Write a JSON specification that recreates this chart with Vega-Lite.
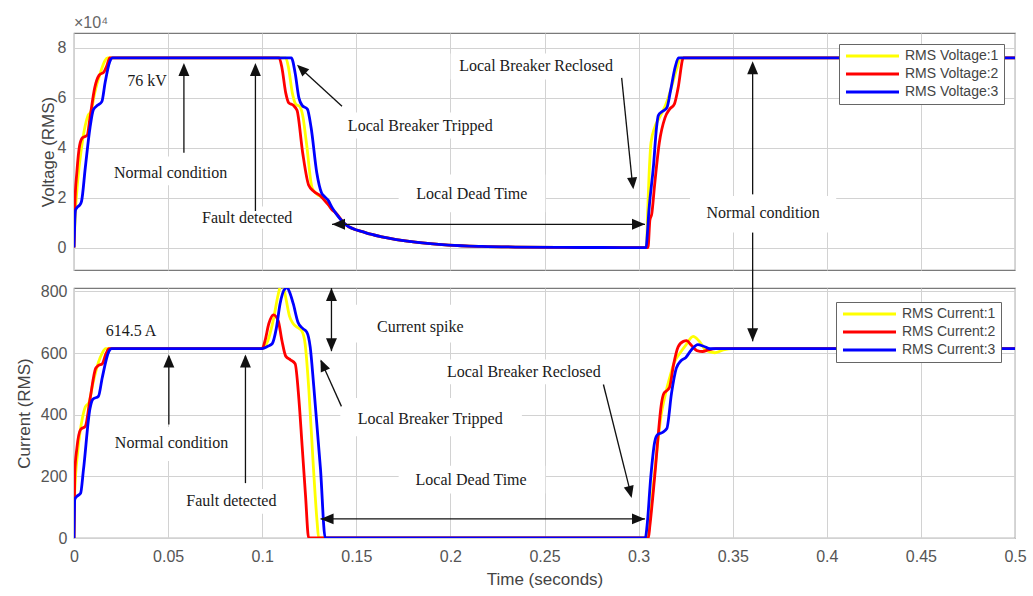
{
"$schema": "https://vega.github.io/schema/vega-lite/v6.json",
"background": "white",
"padding": {"left": 14, "top": 14, "right": 5, "bottom": 4},
"spacing": 18,
"bounds": "flush",
"resolve": {"scale": {"color": "independent"}},
"config": {
  "view": {"stroke": "#7a7a7a", "strokeWidth": 1.2},
  "axis": {"grid": true, "gridColor": "#d2d2d2", "gridWidth": 1, "domain": false, "ticks": false, "labelFlush": false,
    "labelFont": "Liberation Sans", "labelFontSize": 16, "labelColor": "#555555",
    "titleFont": "Liberation Sans", "titleFontSize": 17, "titleColor": "#444444", "titleFontWeight": "normal"},
  "legend": {"title": null, "orient": "top-right", "fillColor": "white", "strokeColor": "#666666", "padding": 5,
    "labelFont": "Liberation Sans", "labelFontSize": 14, "labelColor": "#444444",
    "symbolType": "M-1,0L9.6,0", "symbolSize": 100, "symbolStrokeWidth": 3, "rowPadding": 4, "labelOffset": 47}
},
"datasets": {
"voltage": [
{"t":0,"v":0,"phase":"RMS Voltage:1"},{"t":0.0006,"v":12000,"phase":"RMS Voltage:1"},{"t":0.002,"v":27000,"phase":"RMS Voltage:1"},{"t":0.004,"v":40000,"phase":"RMS Voltage:1"},{"t":0.006,"v":49000,"phase":"RMS Voltage:1"},{"t":0.0075,"v":53000,"phase":"RMS Voltage:1"},{"t":0.009,"v":54500,"phase":"RMS Voltage:1"},{"t":0.011,"v":62000,"phase":"RMS Voltage:1"},{"t":0.014,"v":70000,"phase":"RMS Voltage:1"},{"t":0.0165,"v":75000,"phase":"RMS Voltage:1"},{"t":0.0178,"v":76000,"phase":"RMS Voltage:1"},{"t":0.1125,"v":76000,"phase":"RMS Voltage:1"},{"t":0.114,"v":72000,"phase":"RMS Voltage:1"},{"t":0.116,"v":62000,"phase":"RMS Voltage:1"},{"t":0.1178,"v":57500,"phase":"RMS Voltage:1"},{"t":0.12,"v":56500,"phase":"RMS Voltage:1"},{"t":0.1215,"v":53000,"phase":"RMS Voltage:1"},{"t":0.1235,"v":42000,"phase":"RMS Voltage:1"},{"t":0.1265,"v":24000,"phase":"RMS Voltage:1"},{"t":0.129,"v":21500,"phase":"RMS Voltage:1"},{"t":0.132,"v":20000,"phase":"RMS Voltage:1"},{"t":0.1345,"v":18000,"phase":"RMS Voltage:1"},{"t":0.137,"v":15500,"phase":"RMS Voltage:1"},{"t":0.1389,"v":14000,"phase":"RMS Voltage:1"},{"t":0.1442,"v":9300,"phase":"RMS Voltage:1"},{"t":0.1548,"v":6000,"phase":"RMS Voltage:1"},{"t":0.1636,"v":4300,"phase":"RMS Voltage:1"},{"t":0.1814,"v":2150,"phase":"RMS Voltage:1"},{"t":0.199,"v":1000,"phase":"RMS Voltage:1"},{"t":0.2167,"v":470,"phase":"RMS Voltage:1"},{"t":0.2345,"v":200,"phase":"RMS Voltage:1"},{"t":0.26,"v":50,"phase":"RMS Voltage:1"},{"t":0.28,"v":10,"phase":"RMS Voltage:1"},{"t":0.3042,"v":0,"phase":"RMS Voltage:1"},{"t":0.3048,"v":14000,"phase":"RMS Voltage:1"},{"t":0.3055,"v":28000,"phase":"RMS Voltage:1"},{"t":0.3066,"v":42000,"phase":"RMS Voltage:1"},{"t":0.3085,"v":48000,"phase":"RMS Voltage:1"},{"t":0.311,"v":52000,"phase":"RMS Voltage:1"},{"t":0.314,"v":56500,"phase":"RMS Voltage:1"},{"t":0.317,"v":63000,"phase":"RMS Voltage:1"},{"t":0.32,"v":71000,"phase":"RMS Voltage:1"},{"t":0.3225,"v":76000,"phase":"RMS Voltage:1"},{"t":0.5,"v":76000,"phase":"RMS Voltage:1"},
{"t":0,"v":0,"phase":"RMS Voltage:2"},{"t":0.0005,"v":18000,"phase":"RMS Voltage:2"},{"t":0.0015,"v":30000,"phase":"RMS Voltage:2"},{"t":0.003,"v":41000,"phase":"RMS Voltage:2"},{"t":0.0045,"v":44000,"phase":"RMS Voltage:2"},{"t":0.007,"v":45000,"phase":"RMS Voltage:2"},{"t":0.0085,"v":52000,"phase":"RMS Voltage:2"},{"t":0.011,"v":64000,"phase":"RMS Voltage:2"},{"t":0.0133,"v":69000,"phase":"RMS Voltage:2"},{"t":0.016,"v":70500,"phase":"RMS Voltage:2"},{"t":0.0175,"v":73000,"phase":"RMS Voltage:2"},{"t":0.019,"v":76000,"phase":"RMS Voltage:2"},{"t":0.109,"v":76000,"phase":"RMS Voltage:2"},{"t":0.1105,"v":72000,"phase":"RMS Voltage:2"},{"t":0.1125,"v":62000,"phase":"RMS Voltage:2"},{"t":0.1141,"v":58000,"phase":"RMS Voltage:2"},{"t":0.1165,"v":57000,"phase":"RMS Voltage:2"},{"t":0.1185,"v":55000,"phase":"RMS Voltage:2"},{"t":0.1215,"v":38000,"phase":"RMS Voltage:2"},{"t":0.1247,"v":25000,"phase":"RMS Voltage:2"},{"t":0.1275,"v":22500,"phase":"RMS Voltage:2"},{"t":0.131,"v":20700,"phase":"RMS Voltage:2"},{"t":0.1335,"v":18500,"phase":"RMS Voltage:2"},{"t":0.1353,"v":17000,"phase":"RMS Voltage:2"},{"t":0.137,"v":15200,"phase":"RMS Voltage:2"},{"t":0.1389,"v":14000,"phase":"RMS Voltage:2"},{"t":0.1442,"v":9300,"phase":"RMS Voltage:2"},{"t":0.1548,"v":6000,"phase":"RMS Voltage:2"},{"t":0.1636,"v":4300,"phase":"RMS Voltage:2"},{"t":0.1814,"v":2150,"phase":"RMS Voltage:2"},{"t":0.199,"v":1000,"phase":"RMS Voltage:2"},{"t":0.2167,"v":470,"phase":"RMS Voltage:2"},{"t":0.2345,"v":200,"phase":"RMS Voltage:2"},{"t":0.26,"v":50,"phase":"RMS Voltage:2"},{"t":0.28,"v":10,"phase":"RMS Voltage:2"},{"t":0.305,"v":0,"phase":"RMS Voltage:2"},{"t":0.306,"v":11000,"phase":"RMS Voltage:2"},{"t":0.307,"v":13500,"phase":"RMS Voltage:2"},{"t":0.3085,"v":25000,"phase":"RMS Voltage:2"},{"t":0.311,"v":42000,"phase":"RMS Voltage:2"},{"t":0.314,"v":52000,"phase":"RMS Voltage:2"},{"t":0.3165,"v":55500,"phase":"RMS Voltage:2"},{"t":0.319,"v":57500,"phase":"RMS Voltage:2"},{"t":0.321,"v":64000,"phase":"RMS Voltage:2"},{"t":0.3238,"v":76000,"phase":"RMS Voltage:2"},{"t":0.5,"v":76000,"phase":"RMS Voltage:2"},
{"t":0,"v":0,"phase":"RMS Voltage:3"},{"t":0.0008,"v":15000,"phase":"RMS Voltage:3"},{"t":0.0018,"v":16200,"phase":"RMS Voltage:3"},{"t":0.003,"v":17000,"phase":"RMS Voltage:3"},{"t":0.004,"v":18500,"phase":"RMS Voltage:3"},{"t":0.006,"v":32000,"phase":"RMS Voltage:3"},{"t":0.0085,"v":48000,"phase":"RMS Voltage:3"},{"t":0.0103,"v":55300,"phase":"RMS Voltage:3"},{"t":0.0125,"v":57000,"phase":"RMS Voltage:3"},{"t":0.0148,"v":58500,"phase":"RMS Voltage:3"},{"t":0.0165,"v":66000,"phase":"RMS Voltage:3"},{"t":0.019,"v":74500,"phase":"RMS Voltage:3"},{"t":0.0205,"v":76000,"phase":"RMS Voltage:3"},{"t":0.1155,"v":76000,"phase":"RMS Voltage:3"},{"t":0.1175,"v":70000,"phase":"RMS Voltage:3"},{"t":0.1195,"v":60000,"phase":"RMS Voltage:3"},{"t":0.1212,"v":57000,"phase":"RMS Voltage:3"},{"t":0.124,"v":55500,"phase":"RMS Voltage:3"},{"t":0.126,"v":48000,"phase":"RMS Voltage:3"},{"t":0.129,"v":30000,"phase":"RMS Voltage:3"},{"t":0.1315,"v":22000,"phase":"RMS Voltage:3"},{"t":0.133,"v":20500,"phase":"RMS Voltage:3"},{"t":0.135,"v":19000,"phase":"RMS Voltage:3"},{"t":0.137,"v":16200,"phase":"RMS Voltage:3"},{"t":0.1389,"v":14000,"phase":"RMS Voltage:3"},{"t":0.1442,"v":9300,"phase":"RMS Voltage:3"},{"t":0.1548,"v":6000,"phase":"RMS Voltage:3"},{"t":0.1636,"v":4300,"phase":"RMS Voltage:3"},{"t":0.1814,"v":2150,"phase":"RMS Voltage:3"},{"t":0.199,"v":1000,"phase":"RMS Voltage:3"},{"t":0.2167,"v":470,"phase":"RMS Voltage:3"},{"t":0.2345,"v":200,"phase":"RMS Voltage:3"},{"t":0.26,"v":50,"phase":"RMS Voltage:3"},{"t":0.28,"v":10,"phase":"RMS Voltage:3"},{"t":0.304,"v":0,"phase":"RMS Voltage:3"},{"t":0.3046,"v":5000,"phase":"RMS Voltage:3"},{"t":0.3055,"v":15000,"phase":"RMS Voltage:3"},{"t":0.3079,"v":32600,"phase":"RMS Voltage:3"},{"t":0.3095,"v":48000,"phase":"RMS Voltage:3"},{"t":0.3105,"v":53000,"phase":"RMS Voltage:3"},{"t":0.3125,"v":54500,"phase":"RMS Voltage:3"},{"t":0.315,"v":56000,"phase":"RMS Voltage:3"},{"t":0.317,"v":63000,"phase":"RMS Voltage:3"},{"t":0.3195,"v":72500,"phase":"RMS Voltage:3"},{"t":0.3212,"v":76000,"phase":"RMS Voltage:3"},{"t":0.5,"v":76000,"phase":"RMS Voltage:3"}
],
"current": [
{"t":0,"i":0,"phase":"RMS Current:1"},{"t":0.0004,"i":150,"phase":"RMS Current:1"},{"t":0.002,"i":280,"phase":"RMS Current:1"},{"t":0.0045,"i":390,"phase":"RMS Current:1"},{"t":0.006,"i":425,"phase":"RMS Current:1"},{"t":0.008,"i":440,"phase":"RMS Current:1"},{"t":0.01,"i":500,"phase":"RMS Current:1"},{"t":0.013,"i":570,"phase":"RMS Current:1"},{"t":0.015,"i":600,"phase":"RMS Current:1"},{"t":0.0168,"i":614.5,"phase":"RMS Current:1"},{"t":0.1,"i":614.5,"phase":"RMS Current:1"},{"t":0.103,"i":640,"phase":"RMS Current:1"},{"t":0.106,"i":710,"phase":"RMS Current:1"},{"t":0.1085,"i":790,"phase":"RMS Current:1"},{"t":0.1106,"i":830,"phase":"RMS Current:1"},{"t":0.1125,"i":780,"phase":"RMS Current:1"},{"t":0.1145,"i":720,"phase":"RMS Current:1"},{"t":0.1165,"i":695,"phase":"RMS Current:1"},{"t":0.119,"i":682,"phase":"RMS Current:1"},{"t":0.121,"i":672,"phase":"RMS Current:1"},{"t":0.1228,"i":630,"phase":"RMS Current:1"},{"t":0.1248,"i":480,"phase":"RMS Current:1"},{"t":0.127,"i":250,"phase":"RMS Current:1"},{"t":0.1292,"i":50,"phase":"RMS Current:1"},{"t":0.13,"i":0,"phase":"RMS Current:1"},{"t":0.3045,"i":0,"phase":"RMS Current:1"},{"t":0.306,"i":60,"phase":"RMS Current:1"},{"t":0.308,"i":180,"phase":"RMS Current:1"},{"t":0.31,"i":300,"phase":"RMS Current:1"},{"t":0.312,"i":400,"phase":"RMS Current:1"},{"t":0.314,"i":460,"phase":"RMS Current:1"},{"t":0.3165,"i":520,"phase":"RMS Current:1"},{"t":0.319,"i":570,"phase":"RMS Current:1"},{"t":0.322,"i":600,"phase":"RMS Current:1"},{"t":0.325,"i":625,"phase":"RMS Current:1"},{"t":0.329,"i":654,"phase":"RMS Current:1"},{"t":0.332,"i":640,"phase":"RMS Current:1"},{"t":0.336,"i":608,"phase":"RMS Current:1"},{"t":0.3405,"i":601,"phase":"RMS Current:1"},{"t":0.345,"i":610,"phase":"RMS Current:1"},{"t":0.35,"i":614.5,"phase":"RMS Current:1"},{"t":0.5,"i":614.5,"phase":"RMS Current:1"},
{"t":0,"i":0,"phase":"RMS Current:2"},{"t":0.0004,"i":210,"phase":"RMS Current:2"},{"t":0.0015,"i":290,"phase":"RMS Current:2"},{"t":0.0035,"i":352,"phase":"RMS Current:2"},{"t":0.006,"i":362,"phase":"RMS Current:2"},{"t":0.0085,"i":450,"phase":"RMS Current:2"},{"t":0.0115,"i":550,"phase":"RMS Current:2"},{"t":0.013,"i":560,"phase":"RMS Current:2"},{"t":0.015,"i":565,"phase":"RMS Current:2"},{"t":0.017,"i":598,"phase":"RMS Current:2"},{"t":0.0186,"i":614.5,"phase":"RMS Current:2"},{"t":0.1,"i":614.5,"phase":"RMS Current:2"},{"t":0.1015,"i":640,"phase":"RMS Current:2"},{"t":0.1035,"i":695,"phase":"RMS Current:2"},{"t":0.106,"i":724,"phase":"RMS Current:2"},{"t":0.1085,"i":705,"phase":"RMS Current:2"},{"t":0.1105,"i":640,"phase":"RMS Current:2"},{"t":0.1125,"i":590,"phase":"RMS Current:2"},{"t":0.115,"i":578,"phase":"RMS Current:2"},{"t":0.1175,"i":565,"phase":"RMS Current:2"},{"t":0.1195,"i":450,"phase":"RMS Current:2"},{"t":0.1212,"i":300,"phase":"RMS Current:2"},{"t":0.123,"i":140,"phase":"RMS Current:2"},{"t":0.1247,"i":0,"phase":"RMS Current:2"},{"t":0.3052,"i":0,"phase":"RMS Current:2"},{"t":0.306,"i":40,"phase":"RMS Current:2"},{"t":0.3075,"i":130,"phase":"RMS Current:2"},{"t":0.309,"i":230,"phase":"RMS Current:2"},{"t":0.3105,"i":340,"phase":"RMS Current:2"},{"t":0.312,"i":430,"phase":"RMS Current:2"},{"t":0.3135,"i":470,"phase":"RMS Current:2"},{"t":0.315,"i":478,"phase":"RMS Current:2"},{"t":0.3165,"i":490,"phase":"RMS Current:2"},{"t":0.3185,"i":560,"phase":"RMS Current:2"},{"t":0.321,"i":620,"phase":"RMS Current:2"},{"t":0.3238,"i":638,"phase":"RMS Current:2"},{"t":0.3255,"i":640,"phase":"RMS Current:2"},{"t":0.328,"i":625,"phase":"RMS Current:2"},{"t":0.331,"i":608,"phase":"RMS Current:2"},{"t":0.334,"i":605,"phase":"RMS Current:2"},{"t":0.337,"i":610,"phase":"RMS Current:2"},{"t":0.341,"i":614.5,"phase":"RMS Current:2"},{"t":0.5,"i":614.5,"phase":"RMS Current:2"},
{"t":0,"i":0,"phase":"RMS Current:3"},{"t":0.0004,"i":125,"phase":"RMS Current:3"},{"t":0.0015,"i":135,"phase":"RMS Current:3"},{"t":0.0035,"i":145,"phase":"RMS Current:3"},{"t":0.005,"i":220,"phase":"RMS Current:3"},{"t":0.0085,"i":420,"phase":"RMS Current:3"},{"t":0.01,"i":450,"phase":"RMS Current:3"},{"t":0.013,"i":460,"phase":"RMS Current:3"},{"t":0.015,"i":520,"phase":"RMS Current:3"},{"t":0.0185,"i":605,"phase":"RMS Current:3"},{"t":0.02,"i":614.5,"phase":"RMS Current:3"},{"t":0.1,"i":614.5,"phase":"RMS Current:3"},{"t":0.103,"i":622,"phase":"RMS Current:3"},{"t":0.1053,"i":630,"phase":"RMS Current:3"},{"t":0.1075,"i":680,"phase":"RMS Current:3"},{"t":0.1095,"i":760,"phase":"RMS Current:3"},{"t":0.112,"i":808,"phase":"RMS Current:3"},{"t":0.1132,"i":812,"phase":"RMS Current:3"},{"t":0.115,"i":790,"phase":"RMS Current:3"},{"t":0.1165,"i":760,"phase":"RMS Current:3"},{"t":0.119,"i":700,"phase":"RMS Current:3"},{"t":0.1215,"i":680,"phase":"RMS Current:3"},{"t":0.1237,"i":668,"phase":"RMS Current:3"},{"t":0.1255,"i":620,"phase":"RMS Current:3"},{"t":0.1274,"i":492,"phase":"RMS Current:3"},{"t":0.131,"i":222,"phase":"RMS Current:3"},{"t":0.1335,"i":0,"phase":"RMS Current:3"},{"t":0.3036,"i":0,"phase":"RMS Current:3"},{"t":0.3045,"i":40,"phase":"RMS Current:3"},{"t":0.3065,"i":200,"phase":"RMS Current:3"},{"t":0.3085,"i":310,"phase":"RMS Current:3"},{"t":0.31,"i":335,"phase":"RMS Current:3"},{"t":0.3125,"i":342,"phase":"RMS Current:3"},{"t":0.315,"i":355,"phase":"RMS Current:3"},{"t":0.3175,"i":470,"phase":"RMS Current:3"},{"t":0.32,"i":550,"phase":"RMS Current:3"},{"t":0.3225,"i":575,"phase":"RMS Current:3"},{"t":0.325,"i":585,"phase":"RMS Current:3"},{"t":0.328,"i":610,"phase":"RMS Current:3"},{"t":0.3315,"i":627,"phase":"RMS Current:3"},{"t":0.3345,"i":622,"phase":"RMS Current:3"},{"t":0.338,"i":614,"phase":"RMS Current:3"},{"t":0.341,"i":614.5,"phase":"RMS Current:3"},{"t":0.5,"i":614.5,"phase":"RMS Current:3"}
]
},
"vconcat": [
{
  "width": 941, "height": 237,
  "title": {"text": "×10⁴", "anchor": "start", "frame": "group", "fontSize": 16, "color": "#666666", "font": "Liberation Sans", "fontWeight": "normal", "offset": 2},
  "layer": [
    {"data": {"values": [
      {"t1":0.0171,"t2":0.0855,"v1":25000,"v2":36500},
      {"t1":0.065,"t2":0.119,"v1":7500,"v2":16500},
      {"t1":0.1407,"t2":0.2273,"v1":43700,"v2":54100},
      {"t1":0.2001,"t2":0.2909,"v1":67400,"v2":77800},
      {"t1":0.1725,"t2":0.2504,"v1":14120,"v2":29320},
      {"t1":0.3273,"t2":0.405,"v1":6000,"v2":20640}]},
     "mark": {"type": "rect", "fill": "white"},
     "encoding": {"x": {"field": "t1", "type": "quantitative"}, "x2": {"field": "t2"}, "y": {"field": "v1", "type": "quantitative"}, "y2": {"field": "v2"}}},
    {"data": {"name": "voltage"},
     "mark": {"type": "line", "strokeWidth": 2.8, "interpolate": "monotone", "clip": true},
     "encoding": {
       "x": {"field": "t", "type": "quantitative", "scale": {"domain": [0, 0.5], "nice": false, "zero": false},
             "axis": {"labels": false, "title": null, "values": [0,0.05,0.1,0.15,0.2,0.25,0.3,0.35,0.4,0.45,0.5]}},
       "y": {"field": "v", "type": "quantitative", "scale": {"domain": [-9000, 86000], "nice": false, "zero": false},
             "axis": {"title": "Voltage (RMS)", "values": [0,20000,40000,60000,80000], "labelExpr": "datum.value/10000", "labelPadding": 8, "titlePadding": 0}},
       "color": {"field": "phase", "type": "nominal",
                 "scale": {"domain": ["RMS Voltage:1","RMS Voltage:2","RMS Voltage:3"], "range": ["#ffff00","#ff0000","#0000ff"]},
                 "legend": {"offset": 11}}
     }},
    {"data": {"values": [
      {"t":0.0584,"val":38000,"t2":0.0584,"val2":72000},
      {"t":0.0964,"val":14640,"t2":0.0964,"val2":72000},
      {"t":0.1424,"val":56640,"t2":0.1195,"val2":72500},
      {"t":0.291,"val":68000,"t2":0.2968,"val2":25000},
      {"t":0.1371,"val":9320,"t2":0.3034,"val2":9320},
      {"t":0.3606,"val":21320,"t2":0.3606,"val2":72000},
      {"t":0.3606,"val":6000,"t2":0.3606,"val2":-9000}]},
     "mark": {"type": "rule", "color": "#111111", "strokeWidth": 1.3},
     "encoding": {"x": {"field": "t", "type": "quantitative"}, "x2": {"field": "t2"}, "y": {"field": "val", "type": "quantitative"}, "y2": {"field": "val2"}}},
    {"data": {"values": [
      {"t":0.0388,"val":66640,"label":"76 kV"},
      {"t":0.0513,"val":30000,"label":"Normal condition"},
      {"t":0.092,"val":12000,"label":"Fault detected"},
      {"t":0.184,"val":48920,"label":"Local Breaker Tripped"},
      {"t":0.2455,"val":72640,"label":"Local Breaker Reclosed"},
      {"t":0.2114,"val":21320,"label":"Local Dead Time"},
      {"t":0.3662,"val":14000,"label":"Normal condition"}]},
     "mark": {"type": "text", "font": "Liberation Serif", "fontSize": 16, "color": "#1a1a1a", "align": "center", "baseline": "middle"},
     "encoding": {"x": {"field": "t", "type": "quantitative"}, "y": {"field": "val", "type": "quantitative"}, "text": {"field": "label"}}},
    {"data": {"values": [{"t":0.0584,"val":74000},{"t":0.0964,"val":74000},{"t":0.3606,"val":74640}]},
     "mark": {"type": "point", "shape": "M0,0L-0.42,1L0.42,1Z", "filled": true, "color": "#111111", "opacity": 1, "size": 676, "angle": 0},
     "encoding": {"x": {"field": "t", "type": "quantitative"}, "y": {"field": "val", "type": "quantitative"}}},
    {"data": {"values": [{"t":0.1371,"val":9320}]},
     "mark": {"type": "point", "shape": "M0,0L-0.42,1L0.42,1Z", "filled": true, "color": "#111111", "opacity": 1, "size": 676, "angle": 270},
     "encoding": {"x": {"field": "t", "type": "quantitative"}, "y": {"field": "val", "type": "quantitative"}}},
    {"data": {"values": [{"t":0.3034,"val":9320}]},
     "mark": {"type": "point", "shape": "M0,0L-0.42,1L0.42,1Z", "filled": true, "color": "#111111", "opacity": 1, "size": 676, "angle": 90},
     "encoding": {"x": {"field": "t", "type": "quantitative"}, "y": {"field": "val", "type": "quantitative"}}},
    {"data": {"values": [{"t":0.1185,"val":73320}]},
     "mark": {"type": "point", "shape": "M0,0L-0.42,1L0.42,1Z", "filled": true, "color": "#111111", "opacity": 1, "size": 576, "angle": 313},
     "encoding": {"x": {"field": "t", "type": "quantitative"}, "y": {"field": "val", "type": "quantitative"}}},
    {"data": {"values": [{"t":0.2972,"val":23320}]},
     "mark": {"type": "point", "shape": "M0,0L-0.42,1L0.42,1Z", "filled": true, "color": "#111111", "opacity": 1, "size": 576, "angle": 174},
     "encoding": {"x": {"field": "t", "type": "quantitative"}, "y": {"field": "val", "type": "quantitative"}}}
  ]
},
{
  "width": 941, "height": 250,
  "layer": [
    {"data": {"values": [
      {"t1":0.0176,"t2":0.086,"v1":250,"v2":360},
      {"t1":0.0566,"t2":0.1106,"v1":79,"v2":159},
      {"t1":0.1407,"t2":0.2203,"v1":634,"v2":757},
      {"t1":0.1415,"t2":0.238,"v1":330,"v2":454},
      {"t1":0.1936,"t2":0.2844,"v1":499,"v2":579},
      {"t1":0.1725,"t2":0.2504,"v1":144,"v2":234}]},
     "mark": {"type": "rect", "fill": "white"},
     "encoding": {"x": {"field": "t1", "type": "quantitative"}, "x2": {"field": "t2"}, "y": {"field": "v1", "type": "quantitative"}, "y2": {"field": "v2"}}},
    {"data": {"name": "current"},
     "mark": {"type": "line", "strokeWidth": 2.8, "interpolate": "monotone", "clip": true},
     "encoding": {
       "x": {"field": "t", "type": "quantitative", "scale": {"domain": [0, 0.5], "nice": false, "zero": false},
             "axis": {"title": "Time (seconds)", "values": [0,0.05,0.1,0.15,0.2,0.25,0.3,0.35,0.4,0.45,0.5], "format": "~g", "labelPadding": 10, "titlePadding": 7}},
       "y": {"field": "i", "type": "quantitative", "scale": {"domain": [0, 811], "nice": false, "zero": false},
             "axis": {"title": "Current (RMS)", "values": [0,200,400,600,800], "labelPadding": 7, "titlePadding": 7}},
       "color": {"field": "phase", "type": "nominal",
                 "scale": {"domain": ["RMS Current:1","RMS Current:2","RMS Current:3"], "range": ["#ffff00","#ff0000","#0000ff"]},
                 "legend": {"offset": 14}}
     }},
    {"data": {"values": [
      {"t":0.0504,"val":368,"t2":0.0504,"val2":590},
      {"t":0.0911,"val":178,"t2":0.0911,"val2":590},
      {"t":0.1368,"val":606,"t2":0.1368,"val2":811},
      {"t":0.1421,"val":427,"t2":0.1312,"val2":575},
      {"t":0.2813,"val":498,"t2":0.296,"val2":140},
      {"t":0.131,"val":62,"t2":0.3034,"val2":62},
      {"t":0.3606,"val":638,"t2":0.3606,"val2":870}]},
     "mark": {"type": "rule", "color": "#111111", "strokeWidth": 1.3},
     "encoding": {"x": {"field": "t", "type": "quantitative"}, "x2": {"field": "t2"}, "y": {"field": "val", "type": "quantitative"}, "y2": {"field": "val2"}}},
    {"data": {"values": [
      {"t":0.0303,"val":673,"label":"614.5 A"},
      {"t":0.0518,"val":308,"label":"Normal condition"},
      {"t":0.0836,"val":119,"label":"Fault detected"},
      {"t":0.184,"val":685,"label":"Current spike"},
      {"t":0.1893,"val":386,"label":"Local Breaker Tripped"},
      {"t":0.239,"val":539,"label":"Local Breaker Reclosed"},
      {"t":0.211,"val":189,"label":"Local Dead Time"}]},
     "mark": {"type": "text", "font": "Liberation Serif", "fontSize": 16, "color": "#1a1a1a", "align": "center", "baseline": "middle"},
     "encoding": {"x": {"field": "t", "type": "quantitative"}, "y": {"field": "val", "type": "quantitative"}, "text": {"field": "label"}}},
    {"data": {"values": [{"t":0.0504,"val":595},{"t":0.0911,"val":595},{"t":0.1368,"val":811}]},
     "mark": {"type": "point", "shape": "M0,0L-0.42,1L0.42,1Z", "filled": true, "color": "#111111", "opacity": 1, "size": 676, "angle": 0},
     "encoding": {"x": {"field": "t", "type": "quantitative"}, "y": {"field": "val", "type": "quantitative"}}},
    {"data": {"values": [{"t":0.1368,"val":606},{"t":0.3606,"val":638}]},
     "mark": {"type": "point", "shape": "M0,0L-0.42,1L0.42,1Z", "filled": true, "color": "#111111", "opacity": 1, "size": 676, "angle": 180},
     "encoding": {"x": {"field": "t", "type": "quantitative"}, "y": {"field": "val", "type": "quantitative"}}},
    {"data": {"values": [{"t":0.131,"val":62}]},
     "mark": {"type": "point", "shape": "M0,0L-0.42,1L0.42,1Z", "filled": true, "color": "#111111", "opacity": 1, "size": 676, "angle": 270},
     "encoding": {"x": {"field": "t", "type": "quantitative"}, "y": {"field": "val", "type": "quantitative"}}},
    {"data": {"values": [{"t":0.3034,"val":62}]},
     "mark": {"type": "point", "shape": "M0,0L-0.42,1L0.42,1Z", "filled": true, "color": "#111111", "opacity": 1, "size": 676, "angle": 90},
     "encoding": {"x": {"field": "t", "type": "quantitative"}, "y": {"field": "val", "type": "quantitative"}}},
    {"data": {"values": [{"t":0.131,"val":579}]},
     "mark": {"type": "point", "shape": "M0,0L-0.42,1L0.42,1Z", "filled": true, "color": "#111111", "opacity": 1, "size": 576, "angle": 336},
     "encoding": {"x": {"field": "t", "type": "quantitative"}, "y": {"field": "val", "type": "quantitative"}}},
    {"data": {"values": [{"t":0.2963,"val":130}]},
     "mark": {"type": "point", "shape": "M0,0L-0.42,1L0.42,1Z", "filled": true, "color": "#111111", "opacity": 1, "size": 576, "angle": 166},
     "encoding": {"x": {"field": "t", "type": "quantitative"}, "y": {"field": "val", "type": "quantitative"}}}
  ]
}
]
}
